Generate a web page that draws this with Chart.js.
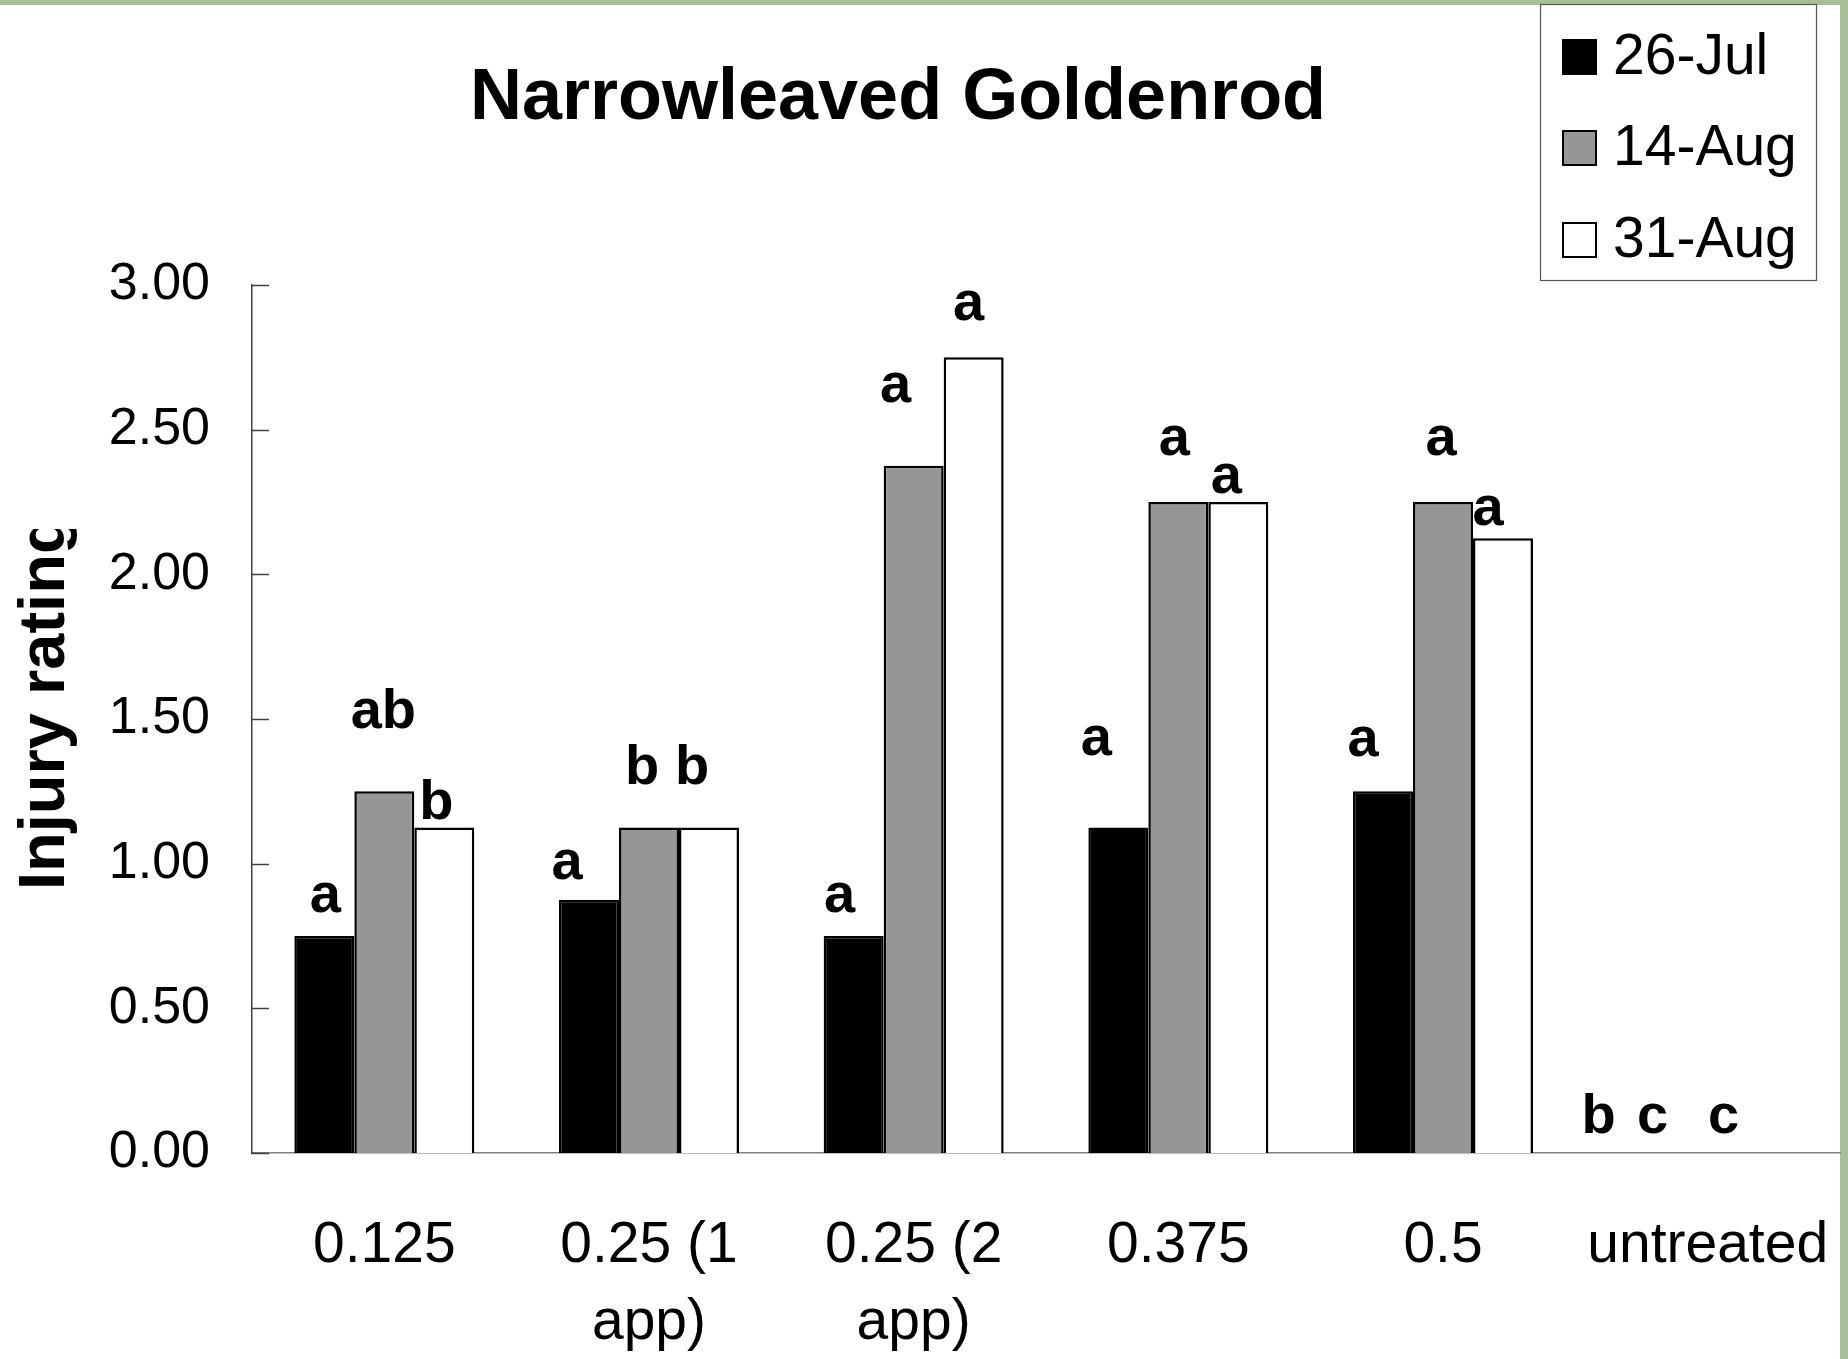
<!DOCTYPE html>
<html><head><meta charset="utf-8">
<script src="https://cdn.jsdelivr.net/npm/chart.js@4"></script>
<style>html,body{margin:0;padding:0;background:#fff;}canvas{display:block;}</style>
</head><body>
<canvas id="c" width="1848" height="1359"></canvas>
<script>
// ---- data ----
const categories = [['0.125'], ['0.25 (1', 'app)'], ['0.25 (2', 'app)'], ['0.375'], ['0.5'], ['untreated']];
const seriesNames = ['26-Jul', '14-Aug', '31-Aug'];
const jul26 = [0.75, 0.875, 0.75, 1.125, 1.25, 0];
const aug14 = [1.25, 1.125, 2.375, 2.25, 2.25, 0];
const aug31 = [1.125, 1.125, 2.75, 2.25, 2.125, 0];
const letters26Jul = ['a', 'a', 'a', 'a', 'a', 'b'];
const letters14Aug = ['ab', 'b', 'a', 'a', 'a', 'c'];
const letters31Aug = ['b', 'b', 'a', 'a', 'a', 'c'];
const yTickValues = [0, 0.5, 1, 1.5, 2, 2.5, 3];
const chartTitle = 'Narrowleaved Goldenrod';
const yTitle = 'Injury rating';

const FONT = '"Liberation Sans", Arial, sans-serif';
Chart.defaults.color = '#000';
Chart.defaults.font.family = FONT;

// label placement offsets (px) relative to bar top centre, per series / category
const letterOffsets = [
  [[1, -24], [-22, -21], [-14, -24], [-22, -73], [-20, -35], [-49, -20]],
  [[-1, -63], [-7, -44], [-18, -64], [-4, -47], [-2, -47], [-55, -20]],
  [[-8, -9], [-17, -44], [-5, -37], [-12, -9], [-15, -13], [-44, -20]]
];

const deco = {
  id: 'deco',
  beforeDraw(chart) {
    const ctx = chart.ctx;
    ctx.save();
    ctx.fillStyle = '#ffffff';
    ctx.fillRect(0, 0, chart.width, chart.height);
    ctx.fillStyle = '#a6bf97';
    ctx.fillRect(0, 0, chart.width, 5);
    ctx.fillRect(1840, 0, 8, chart.height);
    ctx.restore();
  },
  afterDatasetsDraw(chart) {
    const ctx = chart.ctx;
    const y = chart.scales.y;
    const left = chart.chartArea.left;
    ctx.save();
    ctx.strokeStyle = '#404040';
    ctx.lineWidth = 1.5;
    yTickValues.forEach(v => {
      const py = Math.round(y.getPixelForValue(v)) + 0.5;
      ctx.beginPath();
      ctx.moveTo(left, py);
      ctx.lineTo(left + 17, py);
      ctx.stroke();
    });
    const letterSets = [letters26Jul, letters14Aug, letters31Aug];
    ctx.fillStyle = '#000';
    ctx.font = 'bold 56px ' + FONT;
    ctx.textAlign = 'center';
    ctx.textBaseline = 'alphabetic';
    letterSets.forEach((set, di) => {
      const meta = chart.getDatasetMeta(di);
      set.forEach((txt, i) => {
        const el = meta.data[i];
        const off = letterOffsets[di][i];
        ctx.fillText(txt, el.x + off[0], el.y + off[1]);
      });
    });
    ctx.restore();
  },
  afterDraw(chart) {
    const ctx = chart.ctx;
    ctx.save();
    // title
    ctx.fillStyle = '#000';
    ctx.font = 'bold 72px ' + FONT;
    ctx.textAlign = 'center';
    ctx.textBaseline = 'middle';
    ctx.fillText(chartTitle, 898, 99);
    // y-axis title (clipped like the original)
    ctx.save();
    ctx.beginPath();
    ctx.rect(0, 529, 130, 830);
    ctx.clip();
    ctx.translate(64, 890);
    ctx.rotate(-Math.PI / 2);
    ctx.font = 'bold 65px ' + FONT;
    ctx.textAlign = 'left';
    ctx.textBaseline = 'alphabetic';
    ctx.fillText(yTitle, 0, 0);
    ctx.restore();
    // legend
    ctx.fillStyle = '#fff';
    ctx.fillRect(1540, 4, 277, 277);
    ctx.strokeStyle = '#555';
    ctx.lineWidth = 1.2;
    ctx.strokeRect(1540.5, 4.5, 276, 276);
    const rows = [57, 148, 240];
    chart.data.datasets.forEach((ds, i) => {
      const cy = rows[i];
      ctx.fillStyle = ds.backgroundColor;
      ctx.fillRect(1562, cy - 18, 35, 36);
      ctx.strokeStyle = '#000';
      ctx.lineWidth = 2;
      ctx.strokeRect(1563, cy - 17, 33, 34);
      ctx.fillStyle = '#000';
      ctx.font = '57px ' + FONT;
      ctx.textAlign = 'left';
      ctx.textBaseline = 'middle';
      ctx.fillText(ds.label, 1613, cy + 1);
    });
    ctx.restore();
  }
};

const mkDs = (label, data, color) => ({
  label, data,
  backgroundColor: color,
  borderColor: '#000',
  borderWidth: 2.5,
  categoryPercentage: 0.68,
  barPercentage: 1.0
});

new Chart(document.getElementById('c'), {
  type: 'bar',
  data: {
    labels: categories,
    datasets: [
      mkDs(seriesNames[0], jul26, '#000000'),
      mkDs(seriesNames[1], aug14, '#969696'),
      mkDs(seriesNames[2], aug31, '#ffffff')
    ]
  },
  options: {
    responsive: false,
    animation: false,
    layout: { padding: { top: 285, right: 8, left: 0, bottom: 0 } },
    plugins: { legend: { display: false }, title: { display: false }, tooltip: { enabled: false } },
    scales: {
      x: {
        grid: { display: false, drawTicks: false },
        border: { display: true, color: '#7f7f7f', width: 1.5 },
        ticks: { font: { size: 57, lineHeight: 1.35 }, color: '#000', padding: 55, maxRotation: 0, autoSkip: false },
        afterFit(s) { s.height = 206; s.paddingLeft = 0; s.paddingRight = 0; }
      },
      y: {
        min: 0, max: 3,
        grid: { display: false, drawTicks: false },
        border: { display: true, color: '#404040', width: 1.5 },
        ticks: { stepSize: 0.5, font: { size: 52 }, color: '#000', padding: 42, callback: v => Number(v).toFixed(2) },
        afterFit(s) { s.width = 252; s.paddingTop = 0; s.paddingBottom = 0; }
      }
    }
  },
  plugins: [deco]
});
</script>
</body></html>
